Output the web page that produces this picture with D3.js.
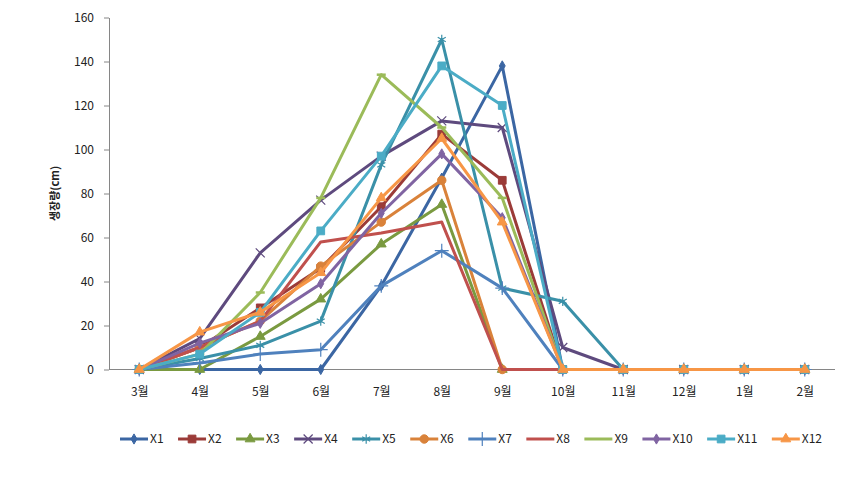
<!DOCTYPE html>
<html>
<head>
<meta charset="utf-8">
<script src="https://cdn.jsdelivr.net/npm/d3@7"></script>
<style>
  html, body { margin: 0; padding: 0; background: #fff; }
  svg { display: block; }
  text { font-family: "Noto Sans CJK KR", "Noto Sans", sans-serif; fill: #222; }
</style>
</head>
<body>
<svg id="chart" width="866" height="477"></svg>
<script>
const months = ["3월","4월","5월","6월","7월","8월","9월","10월","11월","12월","1월","2월"];
const yTicks = [0,20,40,60,80,100,120,140,160];
const seriesNames = ["X1","X2","X3","X4","X5","X6","X7","X8","X9","X10","X11","X12"];
const X1  = [0,0,0,0,38,87,138,0,0,0,0,0];
const X2  = [0,10,28,46,74,107,86,0,0,0,0,0];
const X3  = [0,0,15,32,57,75,0,0,0,0,0,0];
const X4  = [0,14,53,77,97,113,110,10,0,0,0,0];
const X5  = [0,5,11,22,93,150,37,31,0,0,0,0];
const X6  = [0,10,22,47,67,86,0,0,0,0,0,0];
const X7  = [0,3,7,9,38,54,37,0,0,0,0,0];
const X8  = [0,10,22,58,62,67,0,0,0,0,0,0];
const X9  = [0,7,35,78,134,110,78,0,0,0,0,0];
const X10 = [0,12,21,39,71,98,69,0,0,0,0,0];
const X11 = [0,7,26,63,97,138,120,0,0,0,0,0];
const X12 = [0,17,26,44,78,105,67,0,0,0,0,0];
const seriesValues = [X1,X2,X3,X4,X5,X6,X7,X8,X9,X10,X11,X12];
const yTitle = "생장량(cm)";

const colors = ["#3B66A3","#9B3B38","#7A9A40","#5E4A7E","#3A90A8","#D9823A",
                "#4F81BD","#C0504D","#9BBB59","#8064A2","#4BACC6","#F79646"];
const markers = ["diamond","square","triangle","x","asterisk","circle",
                 "plus","none","dash","diamond","square","triangle"];

const svg = d3.select("#chart");
const plot = {left: 109, right: 835, top: 17.5, bottom: 369.5};

const x = d3.scalePoint().domain(months).range([plot.left, plot.right]).padding(0.5);
const y = d3.scaleLinear().domain([0,160]).range([plot.bottom, plot.top]);

// Y axis
const yAxis = d3.axisLeft(y).tickValues(yTicks).tickSize(5).tickPadding(10).tickSizeOuter(0);
const gy = svg.append("g").attr("transform", `translate(${plot.left},0)`).call(yAxis);
gy.select(".domain").attr("stroke", "#868686");
gy.selectAll(".tick line").attr("stroke", "#868686");
gy.selectAll(".tick text").attr("font-size", 12).attr("fill", "#222")
  .attr("font-family", "'Noto Sans CJK KR', sans-serif");

// X axis
const xAxis = d3.axisBottom(x).tickSize(0).tickPadding(18).tickSizeOuter(0);
const gx = svg.append("g").attr("transform", `translate(0,${plot.bottom})`).call(xAxis);
gx.select(".domain").attr("stroke", "#868686").attr("d", `M${plot.left},0H${plot.right}`);
gx.selectAll(".tick text").attr("font-size", 12).attr("fill", "#222")
  .attr("font-family", "'Noto Sans CJK KR', sans-serif");

// Y title
svg.append("text")
  .attr("transform", `translate(59,${(plot.top+plot.bottom)/2}) rotate(-90)`)
  .attr("text-anchor", "middle")
  .attr("font-size", 11).attr("font-weight", "bold")
  .text(yTitle);

function markerPath(type) {
  switch (type) {
    case "diamond": return d3.symbol(d3.symbolDiamond, 30)();
    case "square": return d3.symbol(d3.symbolSquare, 60)();
    case "triangle": return d3.symbol(d3.symbolTriangle, 42)();
    case "circle": return d3.symbol(d3.symbolCircle, 56)();
    case "x": return d3.symbol(d3.symbolX, 55)();
    case "asterisk": return d3.symbol(d3.symbolAsterisk, 60)();
    case "plus": return d3.symbol(d3.symbolPlus, 65)();
    case "dash": return "M-4.5,0H4.5";
    default: return null;
  }
}
const strokeMarkers = new Set(["x","asterisk","plus","dash"]);

const line = d3.line().x((d,i) => x(months[i])).y(d => y(d));

seriesNames.forEach((name, si) => {
  const g = svg.append("g").attr("class", "series");
  const vals = seriesValues[si];
  g.append("path").datum(vals)
    .attr("d", line)
    .attr("fill", "none")
    .attr("stroke", colors[si])
    .attr("stroke-width", 3)
    .attr("stroke-linejoin", "round");
  const mp = markerPath(markers[si]);
  if (mp) {
    const sm = strokeMarkers.has(markers[si]);
    g.selectAll("path.mk").data(vals).enter().append("path")
      .attr("class", "mk")
      .attr("transform", (d,i) => `translate(${x(months[i])},${y(d)})`)
      .attr("d", mp)
      .attr("fill", sm ? "none" : colors[si])
      .attr("stroke", colors[si])
      .attr("stroke-width", sm ? (markers[si]==="dash" ? 2.5 : 1.2) : 1);
  }
});

// Legend
const legend = svg.append("g").attr("class", "legend");
let lx = 120;
const ly = 439;
seriesNames.forEach((name, si) => {
  const g = legend.append("g").attr("transform", `translate(${lx},${ly})`);
  g.append("line").attr("x1", 0).attr("x2", 28).attr("y1", 0).attr("y2", 0)
    .attr("stroke", colors[si]).attr("stroke-width", 3);
  const mp = markerPath(markers[si]);
  if (mp && markers[si] !== "dash") {
    const sm = strokeMarkers.has(markers[si]);
    g.append("path").attr("transform", "translate(14,0)").attr("d", mp)
      .attr("fill", sm ? "none" : colors[si]).attr("stroke", colors[si])
      .attr("stroke-width", sm ? 1.2 : 1);
  }
  const t = g.append("text").attr("x", 30).attr("y", 0).attr("dy", "0.35em")
    .attr("font-size", 12).text(name);
  const w = t.node().getComputedTextLength();
  lx += 30 + w + 14.5;
});
</script>
</body>
</html>
